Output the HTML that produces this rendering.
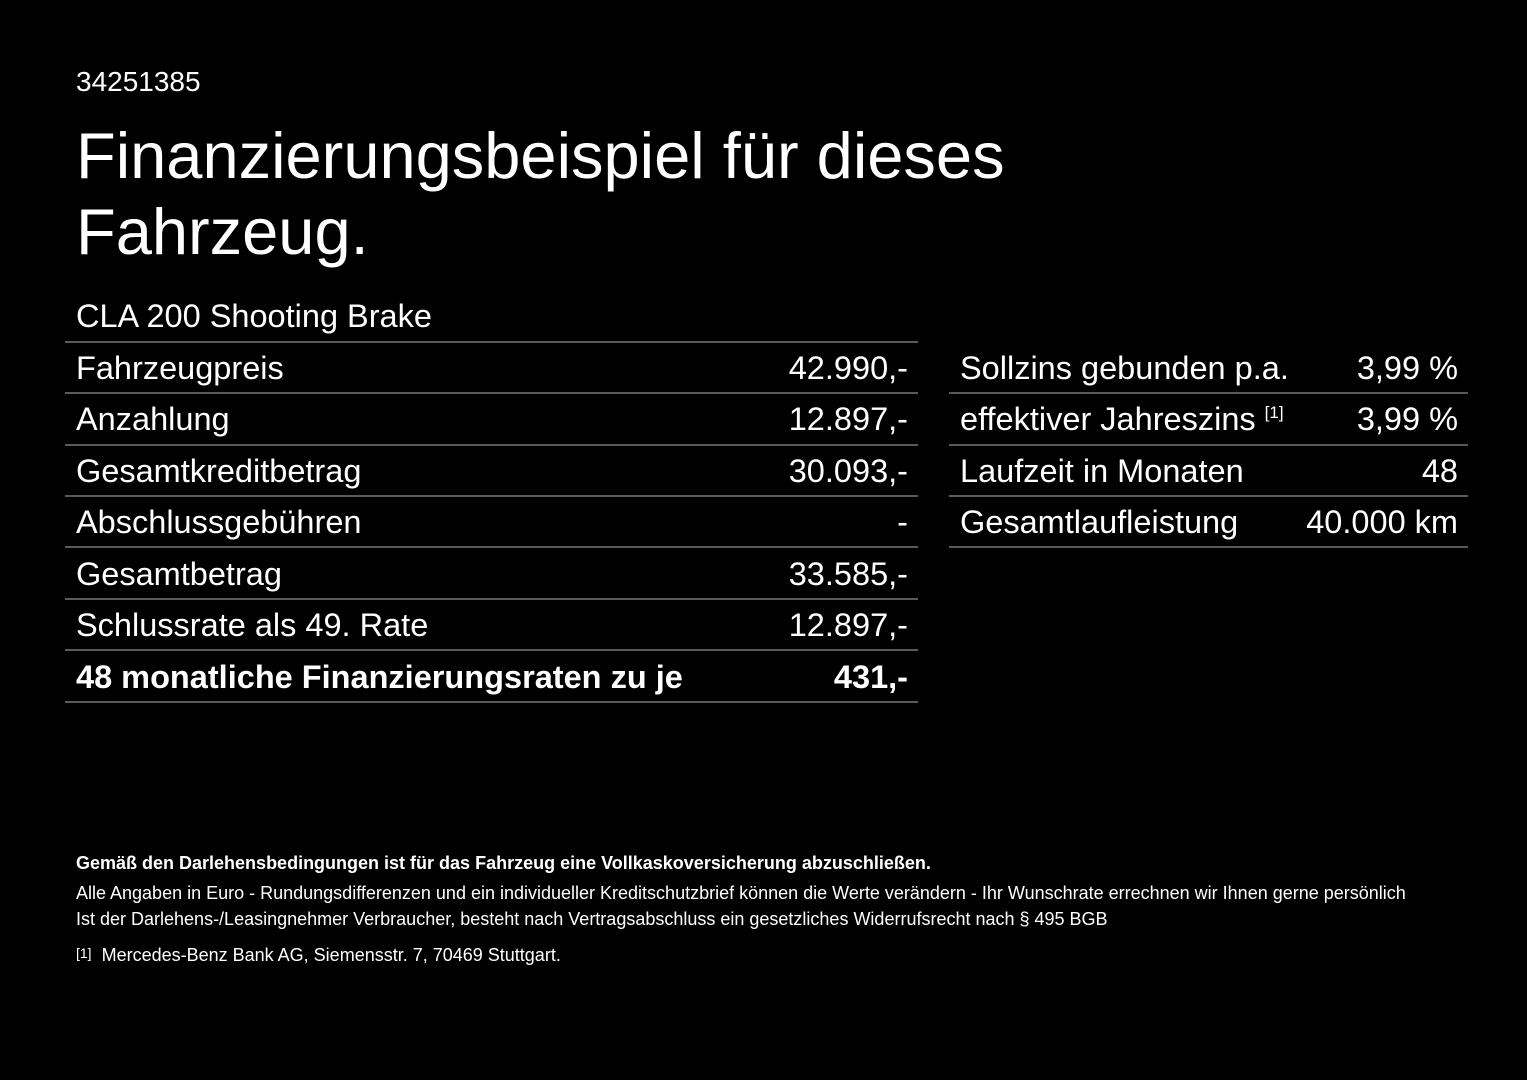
<!DOCTYPE html>
<html><head><meta charset="utf-8"><style>
body{margin:0;width:1527px;height:1080px;background:#000;overflow:hidden;font-family:"Liberation Sans",Arial,sans-serif;color:#fff;position:relative}
.a{position:absolute;white-space:nowrap}
.l{position:absolute;height:2px;background:#5a5a5a}
.t{font-size:32.5px;line-height:36px}
.r{text-align:right}
</style></head><body>
<div class="a" style="left:76px;top:66px;font-size:28px">34251385</div>
<div class="a" style="left:76px;top:118px;font-size:65px;line-height:76px">Finanzierungsbeispiel für dieses<br>Fahrzeug.</div>
<div class="a t" style="left:76px;top:298px">CLA 200 Shooting Brake</div>

<div class="l" style="left:65px;width:853px;top:341px"></div>
<div class="l" style="left:65px;width:853px;top:392px"></div>
<div class="l" style="left:65px;width:853px;top:444px"></div>
<div class="l" style="left:65px;width:853px;top:495px"></div>
<div class="l" style="left:65px;width:853px;top:546px"></div>
<div class="l" style="left:65px;width:853px;top:598px"></div>
<div class="l" style="left:65px;width:853px;top:649px"></div>
<div class="l" style="left:65px;width:853px;top:701px"></div>

<div class="a t" style="left:76px;top:350px">Fahrzeugpreis</div><div class="a t r" style="right:619px;top:350px">42.990,-</div>
<div class="a t" style="left:76px;top:401px">Anzahlung</div><div class="a t r" style="right:619px;top:401px">12.897,-</div>
<div class="a t" style="left:76px;top:453px">Gesamtkreditbetrag</div><div class="a t r" style="right:619px;top:453px">30.093,-</div>
<div class="a t" style="left:76px;top:504px">Abschlussgebühren</div><div class="a t r" style="right:619px;top:504px">-</div>
<div class="a t" style="left:76px;top:556px">Gesamtbetrag</div><div class="a t r" style="right:619px;top:556px">33.585,-</div>
<div class="a t" style="left:76px;top:607px">Schlussrate als 49. Rate</div><div class="a t r" style="right:619px;top:607px">12.897,-</div>
<div class="a t" style="left:76px;top:659px;font-weight:bold">48 monatliche Finanzierungsraten zu je</div><div class="a t r" style="right:619px;top:659px;font-weight:bold">431,-</div>

<div class="l" style="left:949px;width:519px;top:392px"></div>
<div class="l" style="left:949px;width:519px;top:444px"></div>
<div class="l" style="left:949px;width:519px;top:495px"></div>
<div class="l" style="left:949px;width:519px;top:546px"></div>
<div class="a t" style="left:960px;top:350px">Sollzins gebunden p.a.</div><div class="a t r" style="right:69px;top:350px">3,99 %</div>
<div class="a t" style="left:960px;top:401px">effektiver Jahreszins <span style="font-size:17px;position:relative;top:-12px">[1]</span></div><div class="a t r" style="right:69px;top:401px">3,99 %</div>
<div class="a t" style="left:960px;top:453px">Laufzeit in Monaten</div><div class="a t r" style="right:69px;top:453px">48</div>
<div class="a t" style="left:960px;top:504px">Gesamtlaufleistung</div><div class="a t r" style="right:69px;top:504px">40.000 km</div>

<div class="a" style="left:76px;top:853px;font-size:18px;font-weight:bold">Gemäß den Darlehensbedingungen ist für das Fahrzeug eine Vollkaskoversicherung abzuschließen.</div>
<div class="a" style="left:76px;top:883px;font-size:18px">Alle Angaben in Euro - Rundungsdifferenzen und ein individueller Kreditschutzbrief können die Werte verändern - Ihr Wunschrate errechnen wir Ihnen gerne persönlich</div>
<div class="a" style="left:76px;top:909px;font-size:18px">Ist der Darlehens-/Leasingnehmer Verbraucher, besteht nach Vertragsabschluss ein gesetzliches Widerrufsrecht nach § 495 BGB</div>
<div class="a" style="left:76px;top:945px;font-size:18px"><span style="font-size:14px;position:relative;top:-3px">[1]</span>&nbsp; Mercedes-Benz Bank AG, Siemensstr. 7, 70469 Stuttgart.</div>
</body></html>
